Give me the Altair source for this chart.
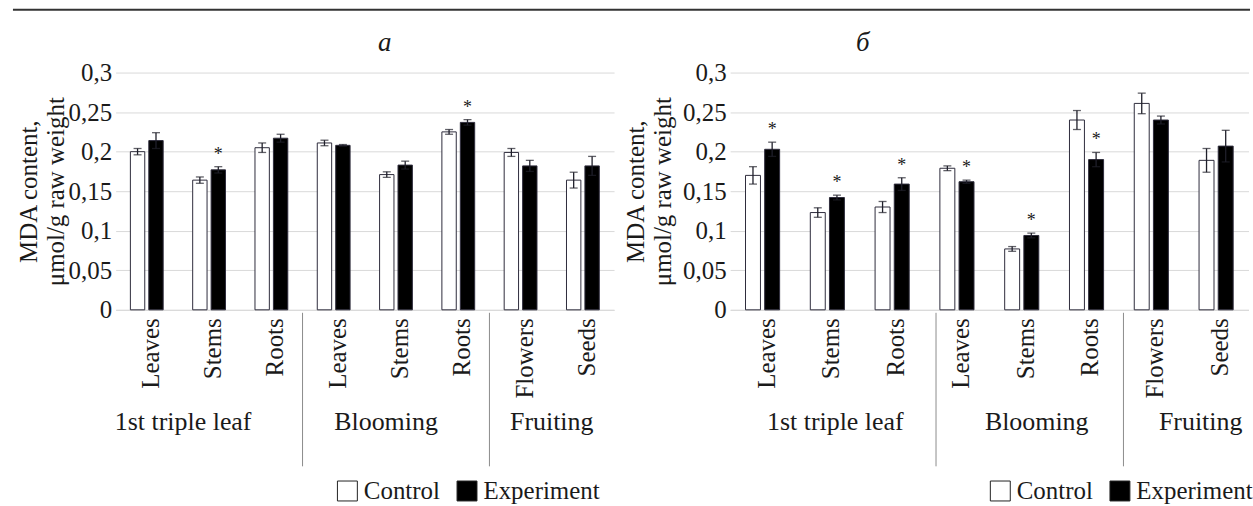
import altair as alt
import pandas as pd

# ---------------- data ----------------
stages = ["1st triple leaf"] * 3 + ["Blooming"] * 3 + ["Fruiting"] * 2
organs = ["Leaves", "Stems", "Roots", "Leaves", "Stems", "Roots", "Flowers", "Seeds"]
series_names = ["Control", "Experiment"]
group_names = ["1st triple leaf", "Blooming", "Fruiting"]
y_ticks = [0, 0.05, 0.1, 0.15, 0.2, 0.25, 0.3]

# panel a
a_control = [0.200, 0.164, 0.205, 0.211, 0.171, 0.225, 0.199, 0.164]
a_control_err = [0.004, 0.004, 0.006, 0.0035, 0.0035, 0.003, 0.005, 0.010]
a_exp = [0.214, 0.177, 0.217, 0.208, 0.183, 0.237, 0.182, 0.182]
a_exp_err = [0.010, 0.004, 0.005, 0.001, 0.005, 0.0035, 0.007, 0.012]
a_sig = [False, True, False, False, False, True, False, False]

# panel б
b_control = [0.170, 0.123, 0.130, 0.179, 0.077, 0.240, 0.261, 0.189]
b_control_err = [0.011, 0.006, 0.007, 0.003, 0.003, 0.012, 0.013, 0.015]
b_exp = [0.203, 0.142, 0.159, 0.162, 0.094, 0.190, 0.240, 0.207]
b_exp_err = [0.009, 0.003, 0.008, 0.002, 0.003, 0.009, 0.005, 0.020]
b_sig = [True, True, True, True, True, True, False, False]

FONT = "Liberation Serif"
INK = "#1a1a1a"
keys = [f"{s}|{o}" for s, o in zip(stages, organs)]
group_anchor = [(group_names[0], keys[1], 0.5), (group_names[1], keys[4], 0.5), (group_names[2], keys[7], 0.0)]
sep_anchor = [keys[3], keys[6]]
H = 238


def panel_df(ctrl, ctrl_err, exp, exp_err, sig):
    rows = []
    for i, k in enumerate(keys):
        for name, vals, errs in (("Control", ctrl, ctrl_err), ("Experiment", exp, exp_err)):
            v, e = vals[i], errs[i]
            rows.append(dict(key=k, series=name, value=v, lo=v - e, hi=v + e,
                             sig=bool(sig[i]) and name == "Experiment"))
    return pd.DataFrame(rows)


def make_panel(df, width, title_text, title_x, ytitle_x, legend_x, group_dx, sep_bp, top_line=False):
    xscale = alt.Scale(domain=keys, paddingInner=0, paddingOuter=0)
    xaxis = alt.Axis(labelExpr="split(datum.label, '|')[1]", labelAngle=270, labelAlign="right",
                     labelBaseline="middle", labelFont=FONT, labelFontSize=25, labelColor=INK,
                     labelPadding=8, labelOffset=4, ticks=False, domainColor="#d9d9d9",
                     grid=False, title=None)

    def X(field="key", bp=None):
        kw = dict(scale=xscale, axis=xaxis, title=None)
        if bp is not None:
            kw["bandPosition"] = bp
        return alt.X(f"{field}:N", **kw)

    xoff = alt.XOffset("series:N", scale=alt.Scale(domain=series_names, paddingInner=0.22, paddingOuter=0.8))
    yscale = alt.Scale(domain=[0, 0.3], nice=False, zero=True)
    yaxis = alt.Axis(values=y_ticks, labelExpr="replace(toString(datum.value), '.', ',')",
                     domain=False, ticks=False, grid=True, gridColor="#d9d9d9",
                     labelFont=FONT, labelFontSize=25, labelColor=INK, labelPadding=4,
                     titleFont=FONT, titleFontSize=25, titleFontWeight="normal", titleColor=INK,
                     titleX=ytitle_x, titleY=H / 2, titleAngle=270, titleAlign="center",
                     titleBaseline="middle", titleLineHeight=27)
    ytitle = ["MDA content,", "μmol/g raw weight"]

    def Y(f):
        return alt.Y(f"{f}:Q", scale=yscale, axis=yaxis, title=ytitle)

    base = alt.Chart(df)
    bars = base.mark_bar(stroke="#2e2c3c", strokeWidth=1).encode(
        x=X(), xOffset=xoff, y=Y("value"),
        fill=alt.Fill("series:N", scale=alt.Scale(domain=series_names, range=["#ffffff", "#000000"]),
                      legend=alt.Legend(orient="none", legendX=legend_x, legendY=407,
                                        direction="horizontal", title=None, labelFont=FONT,
                                        labelFontSize=25, labelColor=INK, symbolType="square",
                                        symbolSize=400, symbolStrokeColor="#222222",
                                        symbolStrokeWidth=1, labelOffset=4, columnPadding=14,
                                        padding=0)),
    )
    rules = base.mark_rule(color="#1f1f2a", strokeWidth=1.3).encode(
        x=X(), xOffset=xoff, y=Y("lo"), y2=alt.Y2("hi:Q"))
    caps = base.transform_fold(["lo", "hi"], as_=["end", "yv"]).mark_tick(
        orient="horizontal", size=8, thickness=1.3, color="#1f1f2a").encode(
        x=X(), xOffset=xoff, y=Y("yv"))
    stars = base.transform_filter("datum.sig").mark_text(
        text="*", font=FONT, fontSize=18, baseline="alphabetic", dy=-7, color=INK).encode(
        x=X(), xOffset=xoff, y=Y("hi"))

    layers = [bars, rules, caps, stars]
    for (gname, anchor, bp), dx in zip(group_anchor, group_dx):
        gdf = pd.DataFrame({"key": [anchor], "label": [gname]})
        layers.append(alt.Chart(gdf).mark_text(font=FONT, fontSize=26, color=INK, baseline="middle",
                                               dx=dx).encode(
            x=X(bp=bp), y=alt.value(351), text="label:N"))
    for anchor, bp in zip(sep_anchor, sep_bp):
        sdf = pd.DataFrame({"key": [anchor]})
        layers.append(alt.Chart(sdf).mark_rule(color="#8c8c8c", strokeWidth=1).encode(
            x=X(bp=bp), y=alt.value(241), y2=alt.value(395)))
    tdf = pd.DataFrame({"t": [title_text]})
    layers.append(alt.Chart(tdf).mark_text(font=FONT, fontSize=27, fontStyle="italic", color=INK,
                                           baseline="alphabetic", align="center").encode(
        x=alt.value(title_x), y=alt.value(-22), text="t:N"))
    if top_line:
        layers.append(alt.Chart(tdf).mark_rule(color="#333333", strokeWidth=2).encode(
            x=alt.value(-103), x2=alt.value(1138), y=alt.value(-63)))
    return alt.layer(*layers).properties(width=width, height=H)


left = make_panel(panel_df(a_control, a_control_err, a_exp, a_exp_err, a_sig), 500, "а", 270,
                  -87, 220, [-26, -10, 0], [0, 0], top_line=True)
right = make_panel(panel_df(b_control, b_control_err, b_exp, b_exp_err, b_sig), 520, "б", 133,
                   -94.5, 258.5, [8, 15, 17], [0.177, 0.07])

chart = alt.hconcat(left, right, spacing=116.5, bounds="flush").resolve_scale(
    x="independent", y="independent", xOffset="independent", fill="independent"
).resolve_legend(fill="independent").properties(
    autosize=alt.AutoSizeParams(type="pad"),
    padding={"left": 12, "top": 8, "right": 0, "bottom": 2},
).configure_view(stroke=None)

chart.save("out.html", embed_options={"renderer": "svg", "actions": False})
